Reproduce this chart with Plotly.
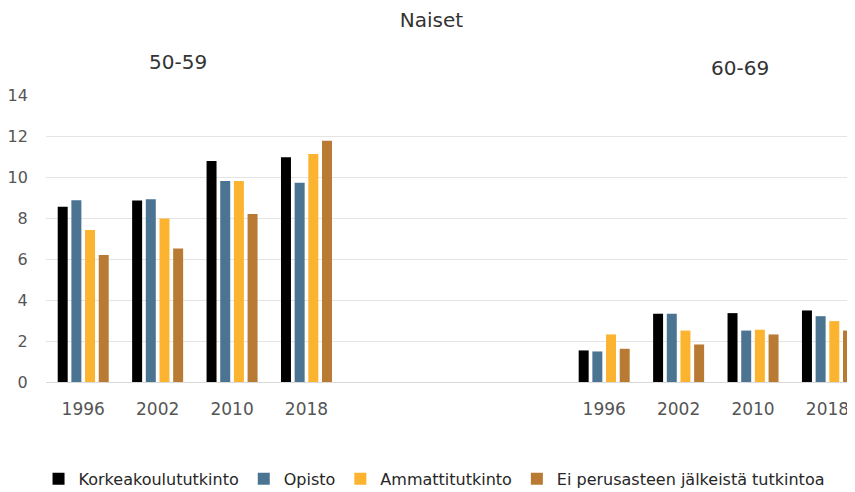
import plotly.graph_objects as go

YEARS = ["1996", "2002", "2010", "2018"]
GROUPS = ["50-59", "60-69"]
SERIES = ["Korkeakoulututkinto", "Opisto", "Ammattitutkinto", "Ei perusasteen jälkeistä tutkintoa"]
COLORS = ["#000000", "#4b7392", "#fbb330", "#b97b34"]

# values per series: first the 50-59 group, then the 60-69 group (1996, 2002, 2010, 2018)
korkea = [8.55, 8.85, 10.78, 10.96, 1.54, 3.33, 3.36, 3.49]
opisto = [8.87, 8.92, 9.81, 9.72, 1.49, 3.33, 2.51, 3.21]
ammatti = [7.42, 7.97, 9.80, 11.12, 2.32, 2.51, 2.55, 2.97]
ei_jalk = [6.19, 6.51, 8.19, 11.77, 1.62, 1.83, 2.32, 2.51]
VALUES = [korkea, opisto, ammatti, ei_jalk]

GAP = 3  # empty category slots between the two age groups
xpos = list(range(len(YEARS))) + [len(YEARS) + GAP + i for i in range(len(YEARS))]
ticktext = YEARS + YEARS

FONT = "DejaVu Sans"
TICK = "#555555"
TEXT = "#333333"

fig = go.Figure()
for name, vals, col in zip(SERIES, VALUES, COLORS):
    fig.add_trace(go.Bar(x=xpos, y=vals, name=name, marker_color=col,
                         marker_line_width=0))

# page body adds an 8px offset, margins compensate for it
fig.update_layout(
    width=847, height=484,
    barmode="group", bargap=0.265, bargroupgap=0.27,
    paper_bgcolor="white", plot_bgcolor="white",
    font=dict(family=FONT, color=TEXT),
    margin=dict(l=38, r=0, t=87, b=110),
    title=dict(text="Naiset", x=0.5, xanchor="center", y=0.975, yanchor="middle",
               font=dict(size=20, color=TEXT, family=FONT)),
    legend=dict(orientation="h", xref="container", x=0.503, xanchor="center",
                yref="container", y=0.027, yanchor="middle",
                font=dict(size=16, color="#262626", family=FONT),
                itemwidth=30, traceorder="normal"),
    showlegend=True,
)

fig.update_xaxes(range=[-0.5, 10.37], tickvals=xpos, ticktext=ticktext,
                 showgrid=False, zeroline=False, showline=False,
                 ticks="outside", ticklen=12, tickcolor="rgba(0,0,0,0)",
                 tickfont=dict(size=17, color=TICK, family=FONT))
fig.update_yaxes(range=[0, 14], dtick=2, showgrid=True, gridcolor="#e4e4e4",
                 zeroline=True, zerolinecolor="#d9d9d9", zerolinewidth=1,
                 ticks="outside", ticklen=14, tickcolor="rgba(0,0,0,0)",
                 tickfont=dict(size=16, color=TICK, family=FONT))

# age-group labels above each block of bars
fig.add_annotation(text=GROUPS[0], x=1.28, xref="x", y=1, yref="paper",
                   yshift=33, yanchor="middle", showarrow=False,
                   font=dict(size=20, color=TEXT, family=FONT))
fig.add_annotation(text=GROUPS[1], x=8.82, xref="x", y=1, yref="paper",
                   yshift=27, yanchor="middle", showarrow=False,
                   font=dict(size=20, color=TEXT, family=FONT))

fig.write_html("out.html")
